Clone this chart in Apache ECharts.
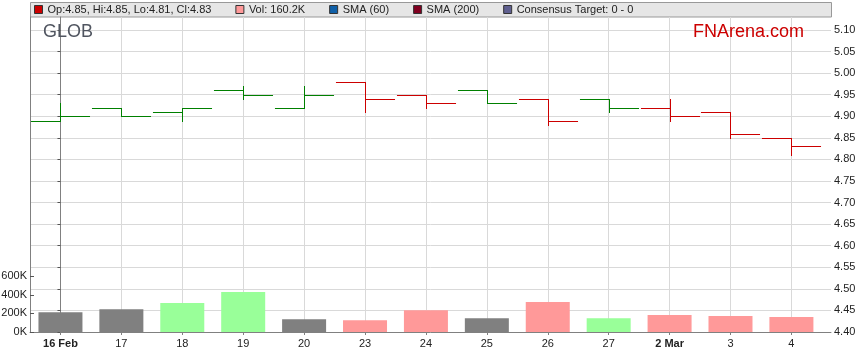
<!DOCTYPE html>
<html><head><meta charset="utf-8">
<script src="https://cdn.jsdelivr.net/npm/echarts@6/dist/echarts.min.js"></script>
<style>html,body{margin:0;padding:0;background:#fff}#c{width:859px;height:363px}</style>
</head><body><div id="c"></div>
<script>
const dates = ['16 Feb','17','18','19','20','23','24','25','26','27','2 Mar','3','4'];
const boldDates = ['16 Feb','2 Mar'];
const opens  = [4.89,4.92,4.91,4.96,4.92,4.98,4.95,4.96,4.94,4.94,4.92,4.91,4.85];
const highs  = [4.93,4.92,4.92,4.97,4.97,4.98,4.95,4.96,4.94,4.94,4.94,4.91,4.85];
const lows   = [4.89,4.90,4.89,4.94,4.92,4.91,4.92,4.93,4.88,4.91,4.89,4.85,4.81];
const closes = [4.90,4.90,4.92,4.95,4.95,4.94,4.93,4.93,4.89,4.92,4.90,4.86,4.83];
const volumes = [213000,246000,311000,430000,138000,127000,235000,149000,322000,149000,184000,173000,160200];
const priceTicks = [4.40,4.45,4.50,4.55,4.60,4.65,4.70,4.75,4.80,4.85,4.90,4.95,5.00,5.05,5.10];
const volumeTicks = [0,200000,400000,600000];

const FONT = '"Liberation Sans", Arial, sans-serif';
const FS = 11;
const UP = '#008000', DOWN = '#cc0000';
const VUP = '#99ff99', VDOWN = '#ff9999', VFLAT = '#808080';

const idx = dates.map((d, i) => i);
const priceColor = closes.map((c, i) => (i === 0 || c >= closes[i - 1] - 1e-9) ? UP : DOWN);
const volColor = closes.map((c, i) => {
  if (i === 0) return VFLAT;
  const d = c - closes[i - 1];
  if (Math.abs(d) < 1e-9) return VFLAT;
  return d > 0 ? VUP : VDOWN;
});
const last = dates.length - 1;
const ohlcName = `Op:${opens[last].toFixed(2)}, Hi:${highs[last].toFixed(2)}, Lo:${lows[last].toFixed(2)}, Cl:${closes[last].toFixed(2)}`;
const volName = `Vol: ${(volumes[last] / 1000).toFixed(1)}K`;
const smaName1 = 'SMA (60)', smaName2 = 'SMA (200)', consName = 'Consensus Target: 0 - 0';

const chart = echarts.init(document.getElementById('c'), null, {renderer: 'canvas'});
const option = {
  animation: false,
  backgroundColor: '#fff',
  textStyle: {fontFamily: FONT},
  grid: {left: 30, right: 28, top: 17, bottom: 31, containLabel: false, outerBoundsMode: 'none'},
  legend: {
    left: 34, top: 4, padding: 0, itemWidth: 8, itemHeight: 8, itemGap: 24,
    selectedMode: false, icon: 'rect',
    textStyle: {fontSize: FS, color: '#222', fontFamily: FONT},
    data: [
      {name: ohlcName, itemStyle: {color: '#cc0000', borderColor: '#333', borderWidth: 1}},
      {name: volName, itemStyle: {color: '#ff9999', borderColor: '#333', borderWidth: 1}},
      {name: smaName1, itemStyle: {color: '#1060a8', borderColor: '#333', borderWidth: 1}},
      {name: smaName2, itemStyle: {color: '#800020', borderColor: '#333', borderWidth: 1}},
      {name: consName, itemStyle: {color: '#606090', borderColor: '#333', borderWidth: 1}}
    ]
  },
  graphic: [
    {type: 'rect', z: -1, shape: {x: 30.5, y: 2.5, width: 801, height: 14.5},
     style: {fill: '#e6e6e6', stroke: '#999', lineWidth: 1}},
    {type: 'text', z: 10, left: 43, top: 23, style: {text: 'GLOB', font: '18px ' + FONT, fill: '#505560'}},
    {type: 'text', z: 10, left: 693, top: 23, style: {text: 'FNArena.com', font: '18px ' + FONT, fill: '#cc0000'}}
  ],
  xAxis: {
    type: 'value', min: -0.5, max: 12.65,
    axisLine: {show: true, onZero: false, lineStyle: {color: '#808080'}},
    axisTick: {show: true, length: 3, customValues: idx, lineStyle: {color: '#808080'}},
    splitLine: {show: true, lineStyle: {color: '#d9d9d9'}},
    axisLabel: {
      customValues: idx, margin: 6, fontSize: FS, color: '#222', fontFamily: FONT,
      formatter: v => {
        const s = dates[Math.round(v)] || '';
        return boldDates.includes(s) ? '{b|' + s + '}' : s;
      },
      rich: {b: {fontWeight: 'bold', fontSize: FS, color: '#222', fontFamily: FONT}}
    }
  },
  yAxis: [
    {
      type: 'value', position: 'right', min: 4.40, max: 5.13,
      axisLine: {show: true, lineStyle: {color: '#808080'}},
      axisTick: {show: true, inside: true, length: 3, customValues: priceTicks, lineStyle: {color: '#555'}},
      splitLine: {show: true, lineStyle: {color: '#d9d9d9'}},
      axisLabel: {customValues: priceTicks, margin: 3, fontSize: FS, color: '#222', fontFamily: FONT,
        formatter: v => v.toFixed(2)}
    },
    {
      type: 'value', position: 'left', min: 0, max: 3390000,
      axisLine: {show: true, lineStyle: {color: '#808080'}},
      axisTick: {show: true, inside: true, length: 4, customValues: volumeTicks, lineStyle: {color: '#555'}},
      splitLine: {show: false},
      axisLabel: {customValues: volumeTicks, margin: 3, fontSize: FS, color: '#222', fontFamily: FONT,
        formatter: v => Math.round(v / 1000) + 'K'}
    }
  ],
  series: [
    {
      name: volName, type: 'bar', xAxisIndex: 0, yAxisIndex: 1, barWidth: 44, z: 1,
      data: volumes.map((v, i) => ({value: [i, v], itemStyle: {color: volColor[i]}})),
      itemStyle: {color: '#ff9999'}
    },
    {
      name: ohlcName, type: 'custom', xAxisIndex: 0, yAxisIndex: 0, z: 3,
      itemStyle: {color: '#cc0000'},
      data: idx.map(i => [i, opens[i], highs[i], lows[i], closes[i]]),
      renderItem: (params, api) => {
        const x = api.value(0);
        const o = api.coord([x, api.value(1)]);
        const h = api.coord([x, api.value(2)]);
        const l = api.coord([x, api.value(3)]);
        const c = api.coord([x, api.value(4)]);
        const half = api.size([1, 0])[0] * 0.485;
        const cx = Math.round(o[0]) + 0.5;
        const r = y => Math.round(y) + 0.5;
        const style = {stroke: priceColor[params.dataIndex], lineWidth: 1};
        return {type: 'group', children: [
          {type: 'line', shape: {x1: cx, y1: r(h[1]) - 0.5, x2: cx, y2: r(l[1]) + 0.5}, style},
          {type: 'line', shape: {x1: cx - half, y1: r(o[1]), x2: cx, y2: r(o[1])}, style},
          {type: 'line', shape: {x1: cx, y1: r(c[1]), x2: cx + half, y2: r(c[1])}, style}
        ]};
      }
    },
    {name: smaName1, type: 'line', data: [], itemStyle: {color: '#1060a8'}},
    {name: smaName2, type: 'line', data: [], itemStyle: {color: '#800020'}},
    {name: consName, type: 'line', data: [], itemStyle: {color: '#606090'}}
  ]
};
chart.setOption(option);
</script>
</body></html>
